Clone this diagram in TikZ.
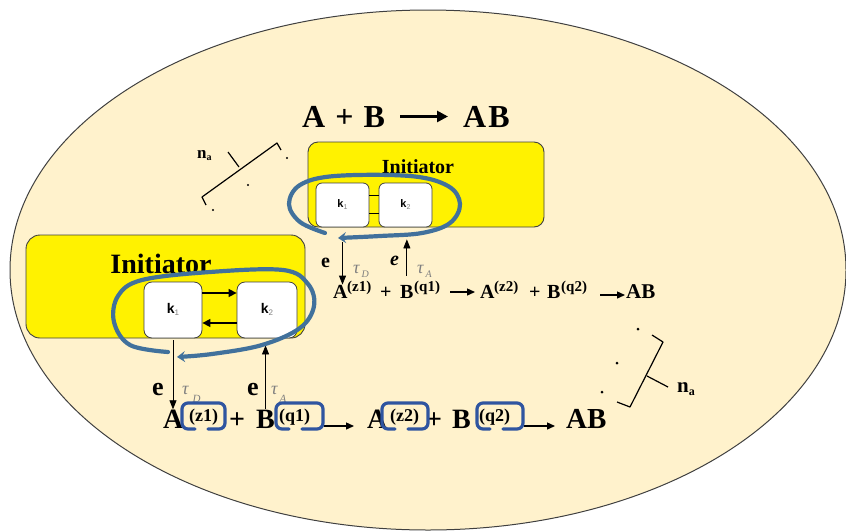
\documentclass[tikz,border=0pt]{standalone}
\usepackage{fontspec}
\setmainfont{Liberation Serif}
\newfontfamily\ksans{Liberation Sans}
\usetikzlibrary{arrows.meta}
\definecolor{cream}{HTML}{FFF2CC}
\definecolor{loopblue}{HTML}{41719C}
\definecolor{cblue}{HTML}{2F55A0}
\definecolor{taugray}{HTML}{7F7F7F}
\definecolor{edgegray}{HTML}{404040}
\newcommand{\klab}[3]{{\ksans\bfseries\fontsize{#2}{#2}\selectfont k}\raisebox{-2pt}{\color{taugray}\ksans\fontsize{#3}{#3}\selectfont #1}}
\newcommand{\cbrk}[3]{\draw[cbr] (#1+13,#3) -- (#1,#3) -- (#1,403) -- (#2,403) -- (#2,#3) -- (#1+26,#3);}
\begin{document}
\begin{tikzpicture}[x=1pt,y=-1pt,
  yellowbox/.style={draw=edgegray, line width=0.9pt, fill=yellow, rounded corners=12pt, inner sep=0pt},
  kbox/.style={draw=edgegray, line width=0.8pt, fill=white, rounded corners=6pt, inner sep=0pt},
  eqB/.style={font=\fontsize{28}{28}\selectfont\bfseries, inner sep=0pt, anchor=base west},
  supB/.style={font=\fontsize{18}{18}\selectfont\bfseries, inner sep=0pt, anchor=base west},
  eqT/.style={font=\fontsize{20}{20}\selectfont\bfseries, inner sep=0pt, anchor=base west},
  supT/.style={font=\fontsize{15}{15}\selectfont\bfseries, inner sep=0pt, anchor=base west},
  titlefont/.style={font=\fontsize{32}{32}\selectfont\bfseries, inner sep=0pt, anchor=base west},
  lbl/.style={inner sep=0pt, anchor=base west},
  eqarrow/.style={line width=1.4pt, -{Triangle[length=8pt,width=7pt]}},
  varrow/.style={line width=0.8pt, -{Triangle[length=9pt,width=7pt]}},
  karrow/.style={line width=1.5pt, -{Triangle[length=8pt,width=8pt]}},
  loopline/.style={draw=loopblue, line width=4.2pt, line cap=round},
  looptip/.style={-{Stealth[length=8pt,width=11pt,inset=3pt]}},
  cbr/.style={draw=cblue, line width=3.2pt, rounded corners=6pt, line cap=round},
  brk/.style={line width=1.2pt, line join=round}]
\useasboundingbox (0,0) rectangle (846,531);
% background ellipse
\draw[fill=cream, draw=edgegray, line width=1pt] (428,270) ellipse [x radius=418, y radius=260];

% title
\node[titlefont] (tl) at (302,127) {A\hspace{10pt}+\hspace{10pt}B};
\node[titlefont] (tr) at (463,127) {A\kern2pt B};
\draw[line width=2.6pt, -{Triangle[length=11pt,width=11pt]}, shorten <=15pt, shorten >=15pt] (tl.east) -- (tr.west);

% top-left bracket n_a
\draw[brk] (206,205) -- (202,197) -- (277,143) -- (281,150);
\draw[brk] (239,167) -- (228,152);
\node[lbl, font=\fontsize{17}{17}\selectfont\bfseries] (na1) at (197,158) {n\raisebox{-2pt}{\fontsize{10}{10}\selectfont a}};
\fill (287,158) circle (1.1);
\fill (248,185) circle (1.1);
\fill (213,210) circle (1.1);

% top initiator
\node[yellowbox, minimum width=236pt, minimum height=85pt, rounded corners=10pt] (initT) at (426,184.5) {};
\node[lbl, anchor=base, font=\fontsize{20}{20}\selectfont\bfseries] (initTl) at (418,173) {Initiator};
\node[kbox, minimum width=53pt, minimum height=44pt] (k1t) at (342.5,205) {\klab{1}{11}{7}};
\node[kbox, minimum width=53pt, minimum height=44pt] (k2t) at (405.5,205) {\klab{2}{11}{7}};
\draw[line width=0.8pt] ([yshift=10pt]k1t.east) -- ([yshift=10pt]k2t.west);
\draw[line width=0.8pt] ([yshift=-8pt]k1t.east) -- ([yshift=-8pt]k2t.west);

% bottom initiator
\node[yellowbox, minimum width=279pt, minimum height=103pt, rounded corners=14pt] (initB) at (165.5,286.5) {};
\node[lbl, anchor=base, font=\fontsize{28}{28}\selectfont\bfseries] (initBl) at (161,273) {Initiator};
\node[kbox, minimum width=58pt, minimum height=56pt, rounded corners=8pt] (k1b) at (173,310) {\raisebox{4pt}{\klab{1}{14}{8}}};
\node[kbox, minimum width=60pt, minimum height=56pt, rounded corners=8pt] (k2b) at (267,310) {\raisebox{4pt}{\klab{2}{14}{8}}};
\draw[karrow] ([yshift=17pt]k1b.east) -- ([yshift=17pt]k2b.west);
\draw[karrow] ([yshift=-13pt]k2b.west) -- ([yshift=-13pt]k1b.east);

% top equation row
\node[eqT] (A1t) at (333,298) {A};
\node[supT] (z1t) at (347,291) {(z1)};
\node[eqT] (p1t) at (380,298) {+};
\node[eqT] (B1t) at (400,298) {B};
\node[supT] (q1t) at (414,291) {(q1)};
\node[eqT] (A2t) at (480,298) {A};
\node[supT] (z2t) at (494,291) {(z2)};
\node[eqT] (p2t) at (529,298) {+};
\node[eqT] (B2t) at (547,298) {B};
\node[supT] (q2t) at (561,291) {(q2)};
\node[eqT, font=\fontsize{21}{21}\selectfont\bfseries] (ABt) at (626,298) {AB};
\coordinate (at1s) at (450,292); \coordinate (at1e) at (475,292);
\coordinate (at2s) at (600,295); \coordinate (at2e) at (625,295);
\draw[eqarrow] (at1s) -- (at1e);
\draw[eqarrow] (at2s) -- (at2e);

% top vertical arrows
\draw[varrow, shorten <=15pt] (k1t.south) -- (k1t.south |- A1t.north);
\draw[varrow, shorten <=9pt, shorten >=12pt] (B1t.north) -- (B1t.north |- k2t.south);
\node[lbl, font=\fontsize{20}{20}\selectfont\bfseries] (e1t) at (321,267) {e};
\node[lbl, font=\fontsize{18}{18}\selectfont\itshape, text=taugray] (tD1t) at (353,273) {τ\kern2pt\raisebox{-4pt}{\fontsize{10}{10}\selectfont D}};
\node[lbl, font=\fontsize{20}{20}\selectfont\bfseries\itshape] (e2t) at (390,265) {e};
\node[lbl, font=\fontsize{18}{18}\selectfont\itshape, text=taugray] (tA1t) at (417,273) {τ\kern2pt\raisebox{-4pt}{\fontsize{10}{10}\selectfont A}};

% bottom equation row
\node[eqB] (A1b) at (163,428) {A};
\node[supB] (z1b) at (189,421) {(z1)};
\node[eqB] (p1b) at (229,428) {+};
\node[eqB] (B1b) at (256,428) {B};
\node[supB] (q1b) at (279,421) {(q1)};
\node[eqB] (A2b) at (367,428) {A};
\node[supB] (z2b) at (390,421) {(z2)};
\node[eqB] (p2b) at (426,428) {+};
\node[eqB] (B2b) at (452,428) {B};
\node[supB] (q2b) at (479,421) {(q2)};
\node[eqB, font=\fontsize{29}{29}\selectfont\bfseries] (ABb) at (566,428) {AB};
\coordinate (ab1s) at (324,426); \coordinate (ab1e) at (354,426);
\coordinate (ab2s) at (524,426); \coordinate (ab2e) at (555,426);
\draw[eqarrow] (ab1s) -- (ab1e);
\draw[eqarrow] (ab2s) -- (ab2e);

% bottom vertical arrows
\draw[varrow, shorten <=2pt] (k1b.south) -- (k1b.south |- A1b.north);
\draw[varrow, shorten >=7pt] (B1b.north) -- (B1b.north |- k2b.south);
\node[lbl, font=\fontsize{26}{26}\selectfont\bfseries] (e1b) at (152,395) {e};
\node[lbl, font=\fontsize{18}{18}\selectfont\itshape, text=taugray] (tD1b) at (182,394) {τ\kern4pt\raisebox{-8pt}{\fontsize{11}{11}\selectfont D}};
\node[lbl, font=\fontsize{26}{26}\selectfont\bfseries] (e2b) at (247,395) {e};
\node[lbl, font=\fontsize{18}{18}\selectfont\itshape, text=taugray] (tA1b) at (271,394) {τ\kern2pt\raisebox{-8pt}{\fontsize{11}{11}\selectfont A}};

% C-brackets round superscripts
\cbrk{182}{225}{429}
\cbrk{276}{323}{429}
\cbrk{382}{428}{429}
\cbrk{477}{523}{429}

% right bracket n_a
\fill (638,329) circle (1.5);
\fill (617,363) circle (1.5);
\fill (602,392) circle (1.5);
\draw[brk] (652,335) -- (663,342) -- (630,407) -- (617,402);
\draw[brk] (647,376) -- (668,387);
\node[lbl, font=\fontsize{21}{21}\selectfont\bfseries] (na2) at (677,392) {n\raisebox{-3pt}{\fontsize{12}{12}\selectfont a}};

% blue loops
\draw[loopline, looptip] plot[smooth, tension=0.6] coordinates {(325,233) (300,222) (289,204) (300,185) (335,176) (410,176) (448,186) (460,204) (450,223) (422,233) (380,236) (338,238)};
\draw[loopline, looptip] plot[smooth, tension=0.6] coordinates {(168,352) (130,345) (114,322) (118,296) (142,280) (210,272) (283,270) (308,284) (314,306) (300,328) (262,345) (212,354) (177,357)};
\end{tikzpicture}
\end{document}
